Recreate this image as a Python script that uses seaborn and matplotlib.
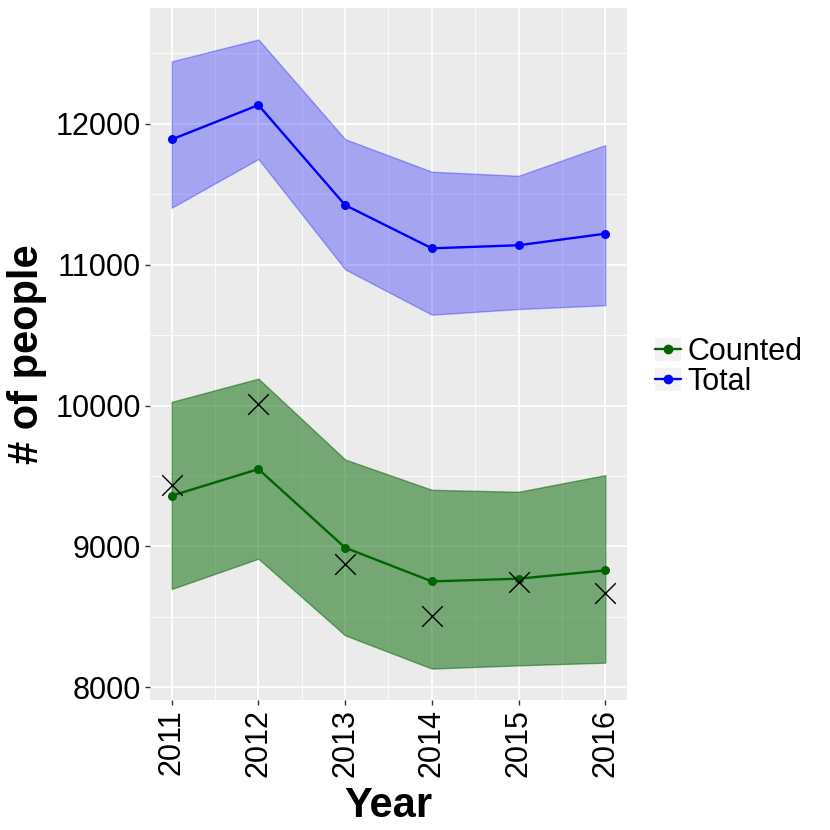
import numpy as np
import pandas as pd
import matplotlib
matplotlib.use('Agg')
import matplotlib.pyplot as plt
import seaborn as sns
from matplotlib.patches import Patch
from matplotlib.lines import Line2D
from matplotlib.legend_handler import HandlerTuple

# values
years = [2011, 2012, 2013, 2014, 2015, 2016]

total_mean = [11889, 12133, 11423, 11116, 11138, 11220]
total_upper = [12443, 12599, 11891, 11660, 11631, 11849]
total_lower = [11404, 11750, 10967, 10645, 10685, 10712]

counted_mean = [9360, 9549, 8991, 8752, 8771, 8830]
counted_upper = [10026, 10191, 9617, 9402, 9388, 9506]
counted_lower = [8698, 8913, 8369, 8133, 8156, 8175]

observed = [9435, 10014, 8877, 8506, 8747, 8670]

df = pd.DataFrame({
    'year': years * 2,
    'people': counted_mean + total_mean,
    'type': ['Counted'] * 6 + ['Total'] * 6,
})
obs = pd.DataFrame({'year': years, 'people': observed})

sns.set_style('darkgrid', {'axes.facecolor': '#EBEBEB', 'grid.color': 'white'})
plt.rcParams['font.family'] = ['Liberation Sans', 'DejaVu Sans']
plt.rcParams['text.color'] = 'black'
plt.rcParams['axes.labelcolor'] = 'black'

fig = plt.figure(figsize=(8.3, 8.3), dpi=100)
ax = fig.add_axes([150 / 830, 130 / 830, 477 / 830, 692 / 830])

ax.fill_between(years, total_lower, total_upper, facecolor='blue', alpha=0.3,
                edgecolor=(0, 0, 1, 0.35), linewidth=1, zorder=2)
ax.fill_between(years, counted_lower, counted_upper, facecolor='darkgreen', alpha=0.5,
                edgecolor=(0, 0.39, 0, 0.4), linewidth=1, zorder=2)

palette = {'Counted': 'darkgreen', 'Total': 'blue'}
sns.lineplot(data=df, x='year', y='people', hue='type', palette=palette,
             marker='o', markersize=6.5, markeredgewidth=0, linewidth=1.7,
             legend=False, ax=ax, zorder=3)
sns.scatterplot(data=obs, x='year', y='people', marker='x', s=220, color='black',
                linewidth=1.0, legend=False, ax=ax, zorder=4)

ax.set_xlim(2010.75, 2016.25)
ax.set_ylim(7910, 12822)
ax.set_xticks(years)
ax.set_xticks([2011.5, 2012.5, 2013.5, 2014.5, 2015.5], minor=True)
ax.set_yticks([8000, 9000, 10000, 11000, 12000])
ax.set_yticks([8500, 9500, 10500, 11500, 12500], minor=True)
ax.grid(which='major', color='white', linewidth=1.3)
ax.grid(which='minor', color='white', linewidth=0.6)
for s in ax.spines.values():
    s.set_visible(False)

ax.tick_params(which='major', length=3.5, width=1, color='#333333', pad=3,
               labelsize=22, labelcolor='black', bottom=True, left=True)
ax.tick_params(which='minor', length=0)
plt.setp(ax.get_xticklabels(), rotation=90)

ax.set_xlabel('Year', fontsize=30, fontweight='bold')
ax.set_ylabel('# of people', fontsize=30, fontweight='bold')
ax.xaxis.set_label_coords(0.5, -0.124)
ax.yaxis.set_label_coords(-0.215, 0.5)

key_bg = '#F2F2F2'
h_counted = (Patch(facecolor=key_bg, edgecolor='none'),
             Line2D([], [], color='darkgreen', marker='o', markersize=6, linewidth=1.7))
h_total = (Patch(facecolor=key_bg, edgecolor='none'),
           Line2D([], [], color='blue', marker='o', markersize=6, linewidth=1.7))
fig.legend([h_counted, h_total], ['Counted', 'Total'],
           handler_map={tuple: HandlerTuple(ndivide=1)},
           loc='center left', bbox_to_anchor=(655 / 830, 1 - 367 / 830),
           frameon=False, fontsize=22, handlelength=0.85, handleheight=0.75,
           labelspacing=0.0, handletextpad=0.2, borderpad=0, borderaxespad=0)

fig.savefig('out.png', dpi=100)
